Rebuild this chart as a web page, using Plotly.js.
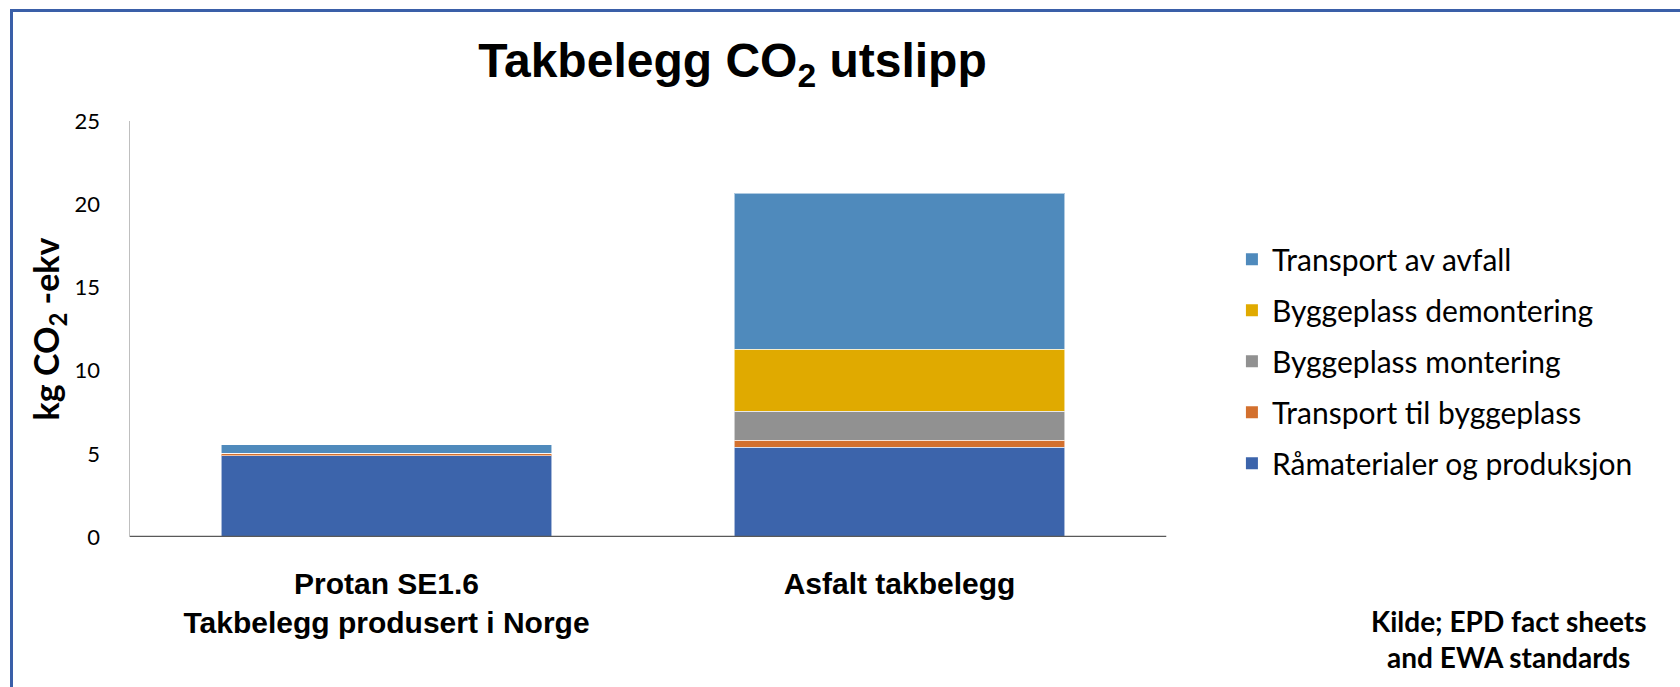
<!DOCTYPE html>
<html>
<head>
<meta charset="utf-8">
<script src="https://cdn.plot.ly/plotly-3.0.1.min.js"></script>
<style>
  html, body { margin: 0; padding: 0; background: #fff; }
  #chart { width: 1680px; height: 687px; position: absolute; left: 0; top: 0; }
  #frame { position: absolute; left: 10px; top: 9px; width: 1670px; height: 678px;
           border-top: 3px solid #3a5fa8; border-left: 3px solid #3a5fa8; pointer-events: none; }
</style>
</head>
<body>
<div id="chart"></div>
<div id="frame"></div>
<script>
// ---- data ----
const categories = ["Protan SE1.6<br>Takbelegg produsert i Norge", "Asfalt takbelegg"];
const seriesNames = ["Råmaterialer og produksjon", "Transport til byggeplass", "Byggeplass montering", "Byggeplass demontering", "Transport av avfall"];
const raamaterialer = [4.89, 5.39];
const transportTil = [0.14, 0.42];
const montering = [0.0, 1.74];
const demontering = [0.0, 3.73];
const transportAvfall = [0.50, 9.37];
const yTicks = [0, 5, 10, 15, 20, 25];

const colors = ["#3c64ab", "#d3702e", "#919191", "#e0aa00", "#4f8abc"];
const values = [raamaterialer, transportTil, montering, demontering, transportAvfall];

const calibriLike = "Lato, 'Open Sans', sans-serif";
const arialLike = "'Liberation Sans', Arial, sans-serif";

const traces = [];
values.forEach((v, i) => {
  traces.push({
    type: "bar", x: categories, y: v, name: seriesNames[i],
    showlegend: false,
    marker: { color: colors[i], line: { color: "rgba(255,255,255,0.55)", width: 1 } },
    hoverinfo: "name+y"
  });
});
// legend entries (larger square swatches), top of stack listed first
for (let i = values.length - 1; i >= 0; i--) {
  traces.push({
    type: "scatter", mode: "markers", x: [null], y: [null], name: seriesNames[i],
    legendgroup: "leg" + (values.length - 1 - i), showlegend: true,
    marker: { symbol: "square", size: 20, color: colors[i] }
  });
}

const layout = {
  width: 1680, height: 687,
  margin: { l: 130, r: 524, t: 121, b: 150, pad: 0 },
  paper_bgcolor: "#ffffff", plot_bgcolor: "#ffffff",
  barmode: "stack", bargap: 0.355,
  showlegend: true,
  title: {
    text: "<b>Takbelegg CO<sub>2</sub> utslipp</b>",
    font: { family: arialLike, size: 48, color: "#000" },
    xref: "container", yref: "container", x: 0.436, xanchor: "center", y: 0.912, yanchor: "middle"
  },
  xaxis: {
    type: "category", showgrid: false, zeroline: false,
    showline: false,
    ticks: "outside", ticklen: 20, tickcolor: "rgba(0,0,0,0)",
    tickfont: { family: arialLike, size: 30, color: "#000", weight: "bold" },
    fixedrange: true
  },
  yaxis: {
    range: [0, 25], tickvals: yTicks, ticktext: yTicks.map(String),
    showgrid: false, zeroline: false,
    showline: true, linecolor: "#bfbfbf", linewidth: 1.5,
    ticks: "outside", ticklen: 24, tickcolor: "rgba(0,0,0,0)",
    tickfont: { family: calibriLike, size: 22, color: "#000" },
    title: { text: "<b>kg CO<sub>2</sub> -ekv</b>", font: { family: calibriLike, size: 34, color: "#000" }, standoff: 4 },
    fixedrange: true
  },
  legend: {
    x: 1.074, xanchor: "left", y: 0.730, yanchor: "top",
    traceorder: "grouped", tracegroupgap: 9,
    font: { family: calibriLike, size: 30, color: "#000" },
    bgcolor: "rgba(0,0,0,0)", itemsizing: "constant"
  },
  shapes: [
    { type: "line", xref: "paper", yref: "y", x0: 0, x1: 1.01, y0: 0, y1: 0,
      line: { color: "#595959", width: 2.5 } }
  ],
  annotations: [
    { text: "<b>Kilde; EPD fact sheets<br>and EWA standards</b>", xref: "paper", yref: "paper",
      x: 1.344, y: -0.244, xanchor: "center", yanchor: "middle", showarrow: false, align: "center",
      font: { family: calibriLike, size: 28, color: "#000" } }
  ]
};

Plotly.newPlot("chart", traces, layout, { displayModeBar: false, staticPlot: true });
</script>
</body>
</html>
